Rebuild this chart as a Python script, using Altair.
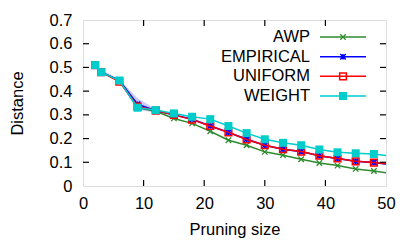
import altair as alt
import pandas as pd

x_vals = [2, 3, 6, 9, 12, 15, 18, 21, 24, 27, 30, 33, 36, 39, 42, 45, 48, 51]
awp = [0.51, 0.48, 0.445, 0.33, 0.315, 0.285, 0.264, 0.231, 0.193, 0.172, 0.144, 0.13, 0.113, 0.097, 0.086, 0.072, 0.063, 0.052]
empirical = [0.51, 0.48, 0.445, 0.345, 0.318, 0.30, 0.282, 0.253, 0.226, 0.197, 0.172, 0.155, 0.145, 0.128, 0.116, 0.104, 0.099, 0.09]
uniform = [0.51, 0.48, 0.44, 0.335, 0.318, 0.30, 0.28, 0.253, 0.226, 0.196, 0.172, 0.155, 0.145, 0.128, 0.116, 0.104, 0.099, 0.091]
weight = [0.51, 0.48, 0.445, 0.33, 0.32, 0.306, 0.292, 0.282, 0.253, 0.223, 0.197, 0.182, 0.172, 0.154, 0.142, 0.138, 0.135, 0.125]
emp_lo = [0.50, 0.475, 0.44, 0.32, 0.31, 0.295, 0.277, 0.248, 0.221, 0.192, 0.168, 0.151, 0.141, 0.124, 0.112, 0.10, 0.095, 0.086]
emp_hi = [0.52, 0.49, 0.45, 0.37, 0.325, 0.305, 0.287, 0.258, 0.231, 0.202, 0.176, 0.159, 0.149, 0.132, 0.12, 0.108, 0.103, 0.094]

names = ["AWP", "EMPIRICAL", "UNIFORM", "WEIGHT"]
colors = ["#2e8b2e", "#0000ff", "#ff0000", "#00cccc"]
series = {"AWP": awp, "EMPIRICAL": empirical, "UNIFORM": uniform, "WEIGHT": weight}

x_labels = [0, 10, 20, 30, 40, 50]
y_labels = [0, 0.1, 0.2, 0.3, 0.4, 0.5, 0.6, 0.7]
x_ticks = [10, 20, 30, 40]
y_ticks = [0.1, 0.2, 0.3, 0.4, 0.5, 0.6]

W, H = 303, 166
FONT = "Liberation Sans"
FS = 16.5

rows = []
for n in names:
    for xv, yv in zip(x_vals, series[n]):
        rows.append({"x": xv, "y": yv, "series": n})
df = pd.DataFrame(rows)
band_df = pd.DataFrame({"x": x_vals, "y": emp_lo, "hi": emp_hi})

xscale = alt.Scale(domain=[0, 50], nice=False, zero=False)
yscale = alt.Scale(domain=[0, 0.7], nice=False)

xaxis = alt.Axis(values=x_labels, ticks=False, domain=False, grid=False,
                 labelPadding=9, labelFontSize=FS, titleFontSize=FS, titleFontWeight="normal",
                 titleY=35, labelFont=FONT, titleFont=FONT, labelColor="black", titleColor="black",
                 labelFlush=False, labelOverlap=False)
yaxis = alt.Axis(values=y_labels, format=".1~f", ticks=False,
                 domain=False, grid=False, labelPadding=11, labelFontSize=FS, titleFontSize=FS,
                 titleFontWeight="normal", titleX=-66, titleY=H / 2, titleAngle=-90,
                 titleBaseline="middle", titleAlign="center", labelFont=FONT, titleFont=FONT,
                 labelColor="black", titleColor="black", labelFlush=False, labelOverlap=False)

X = alt.X("x:Q", scale=xscale, title="Pruning size", axis=xaxis)
Y = alt.Y("y:Q", scale=yscale, title="Distance", axis=yaxis)

layers = []

band = alt.Chart(band_df).mark_area(color="#6666ff", opacity=0.35, clip=True).encode(
    x=X, y=Y, y2="hi:Q")
layers.append(band)

shape_defs = {
    "AWP": dict(shape="M-1,-1L1,1M1,-1L-1,1", filled=False, size=30, strokeWidth=1.3),
    "EMPIRICAL": dict(shape="M-1,-1L1,1M1,-1L-1,1M-1,0L1,0M0,-1L0,1", filled=False, size=30, strokeWidth=1.5),
    "UNIFORM": dict(shape="square", filled=False, size=45, strokeWidth=1.5),
    "WEIGHT": dict(shape="square", filled=True, size=64, strokeWidth=0),
}

for n, c in zip(names, colors):
    sub = alt.Chart(df).transform_filter(alt.datum.series == n)
    line = sub.mark_line(color=c, strokeWidth=1.5, clip=True).encode(x=X, y=Y)
    pts = sub.mark_point(color=c, opacity=1, clip=True, **shape_defs[n]).encode(x=X, y=Y)
    layers.append(line)
    layers.append(pts)

# inward ticks on all four sides
xt = pd.DataFrame({"x": x_ticks})
yt = pd.DataFrame({"y": y_ticks})
tick_style = dict(color="black", strokeWidth=1.2)
layers.append(alt.Chart(xt).mark_rule(**tick_style).encode(
    x=X, y=alt.value(H), y2=alt.value(H - 6)))
layers.append(alt.Chart(xt).mark_rule(**tick_style).encode(
    x=X, y=alt.value(0), y2=alt.value(6)))
layers.append(alt.Chart(yt).mark_rule(**tick_style).encode(
    y=Y, x=alt.value(0), x2=alt.value(6)))
layers.append(alt.Chart(yt).mark_rule(**tick_style).encode(
    y=Y, x=alt.value(W), x2=alt.value(W - 6)))

# custom legend (labels on the left, samples on the right)
leg_df = pd.DataFrame({"series": names})
ly = alt.Y("series:N", scale=alt.Scale(type="point", domain=names, range=[17, 76], padding=0), axis=None)
cscale = alt.Scale(domain=names, range=colors)
leg_text = alt.Chart(leg_df).mark_text(align="right", baseline="middle", fontSize=FS, font=FONT,
                                        color="black").encode(
    x=alt.value(227), y=ly, text="series:N")
leg_line = alt.Chart(leg_df).mark_rule(strokeWidth=1.5).encode(
    x=alt.value(237), x2=alt.value(283), y=ly,
    color=alt.Color("series:N", scale=cscale, legend=None))
leg_layers = [leg_text, leg_line]
for n, c in zip(names, colors):
    leg_layers.append(alt.Chart(leg_df).transform_filter(alt.datum.series == n)
                      .mark_point(color=c, opacity=1, **shape_defs[n])
                      .encode(x=alt.value(260), y=ly))

legend = alt.layer(*leg_layers)

main = alt.layer(*layers)

chart = alt.layer(main, legend).resolve_scale(y="independent", color="independent").properties(
    width=W, height=H,
    autosize=alt.AutoSizeParams(type="none"),
    padding={"left": 75, "top": 12, "right": 20, "bottom": 55},
).configure_view(stroke="black", strokeWidth=1.5).configure(background="white")

chart.save("out.html", embed_options={"renderer": "svg", "actions": False})
